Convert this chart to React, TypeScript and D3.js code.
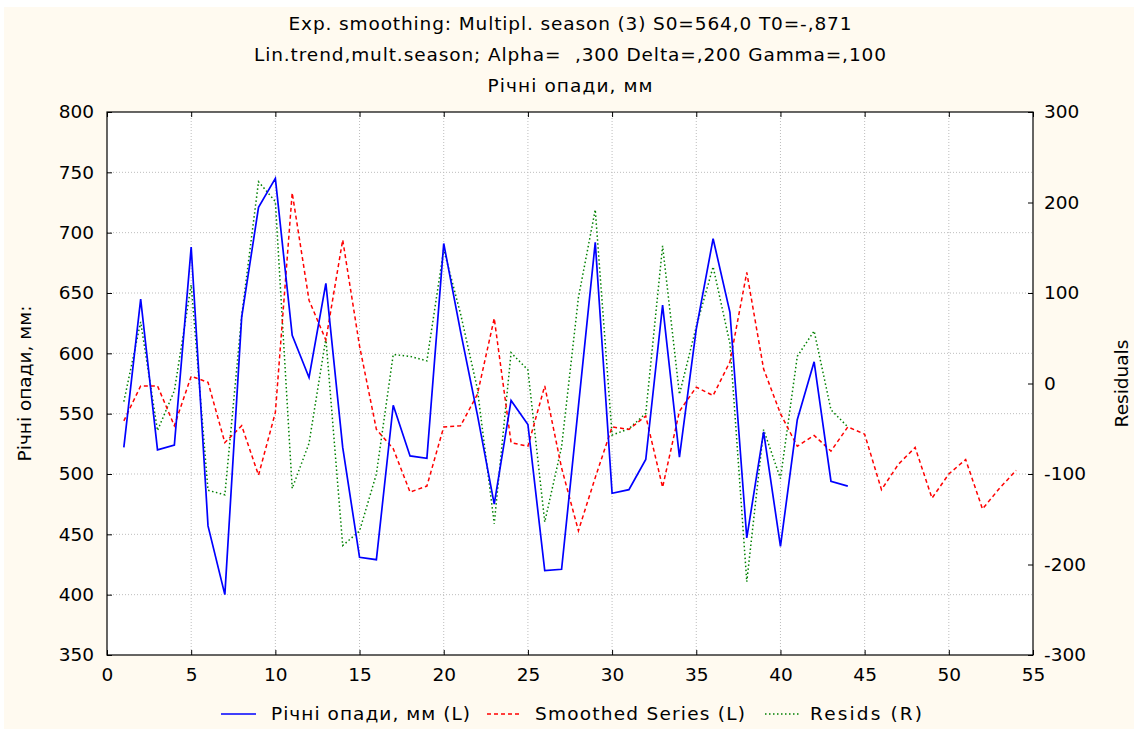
import * as d3 from 'd3';
import React, { useEffect, useRef } from 'react';

// x ticks, left (mm) ticks, right (residual) ticks
const xTicks = [0, 5, 10, 15, 20, 25, 30, 35, 40, 45, 50, 55];
const leftTicks = [350, 400, 450, 500, 550, 600, 650, 700, 750, 800];
const rightTicks = [-300, -200, -100, 0, 100, 200, 300];

// Річні опади, мм (L), periods 1..44
const rainfall = [
   522, 645, 520, 524, 688, 457, 400, 630, 721, 745, 615, 580, 658, 522, 431, 429, 557, 515, 513, 691, 618, 549,
   475, 561, 541, 420, 421, 556, 692, 484, 487, 512, 640, 514, 620, 695, 634, 447, 535, 440, 545, 593, 494, 490,
];

// Smoothed Series (L), periods 1..54 (incl. forecast)
const smoothed = [
   544, 573, 573, 540, 581, 576, 526, 540, 499, 551, 733, 644, 611, 694, 606, 537, 521, 485, 490, 539, 540, 566,
   629, 526, 523, 573, 505, 453, 497, 539, 537, 548, 489, 552, 572, 565, 593, 667, 587, 550, 523, 532, 519, 539,
   533, 487, 508, 522, 480, 500, 512, 471, 488, 503,
];

// Resids (R), periods 1..44
const resids = [
   -20, 68, -52, -8, 109, -118, -123, 75, 223, 201, -116, -66, 50, -179, -163, -100, 32, 30, 25, 148, 77, -6,
   -155, 34, 15, -153, -70, 95, 192, -57, -50, -33, 152, -12, 63, 129, 44, -219, -51, -105, 30, 58, -29, -48,
];

const titleLines = [
   'Exp. smoothing: Multipl. season (3) S0=564,0 T0=-,871',
   'Lin.trend,mult.season; Alpha=  ,300 Delta=,200 Gamma=,100',
   'Річні опади, мм',
];
// widths the title lines take in the original
const titleWidths = [563, 632, 165];

const legendLabels = ['Річні опади, мм (L)', 'Smoothed Series (L)', 'Resids (R)'];

const FONT = '"DejaVu Sans", Verdana, sans-serif';
const FS = 18.5;
const W = 1134;
const H = 729;

const App = () => {
   const svgRef = useRef<SVGSVGElement | null>(null);

   useEffect(() => {
      const el = svgRef.current;
      if (!el) {
         return;
      }
      const svg = d3.select(el);
      svg.selectAll('*').remove();

      const margin = { top: 112, right: 101, bottom: 74, left: 107 };
      const innerWidth = W - margin.left - margin.right;
      const innerHeight = H - margin.top - margin.bottom;

      // backgrounds
      svg.append('rect').attr('width', W).attr('height', H).attr('fill', '#ffffff');
      svg.append('rect')
         .attr('x', 4)
         .attr('y', 7)
         .attr('width', W - 4)
         .attr('height', H - 7)
         .attr('fill', '#fffaf0');

      const g = svg.append('g').attr('transform', `translate(${margin.left},${margin.top})`);
      g.append('rect').attr('width', innerWidth).attr('height', innerHeight).attr('fill', '#ffffff');

      const x = d3.scaleLinear().domain([0, 55]).range([0, innerWidth]);
      const yL = d3.scaleLinear().domain([350, 800]).range([innerHeight, 0]);
      const yR = d3.scaleLinear().domain([-300, 300]).range([innerHeight, 0]);

      // dotted grid
      const grid = g.append('g').attr('stroke', '#bdbdbd').attr('stroke-width', 1).attr('stroke-dasharray', '1,2');
      xTicks.slice(1, -1).forEach((t) => {
         grid.append('line').attr('x1', x(t)).attr('x2', x(t)).attr('y1', 0).attr('y2', innerHeight);
      });
      leftTicks.slice(1, -1).forEach((t) => {
         grid.append('line').attr('x1', 0).attr('x2', innerWidth).attr('y1', yL(t)).attr('y2', yL(t));
      });

      // series
      const plot = g.append('g');
      const lineL = d3
         .line<number>()
         .x((_, i) => x(i + 1))
         .y((v) => yL(v));
      const lineR = d3
         .line<number>()
         .x((_, i) => x(i + 1))
         .y((v) => yR(v));

      plot.append('path')
         .datum(resids)
         .attr('fill', 'none')
         .attr('stroke', '#008000')
         .attr('stroke-width', 1.5)
         .attr('stroke-dasharray', '1.5,2.5')
         .attr('d', lineR);
      plot.append('path')
         .datum(smoothed)
         .attr('fill', 'none')
         .attr('stroke', '#ff0000')
         .attr('stroke-width', 1.5)
         .attr('stroke-dasharray', '4,3')
         .attr('d', lineL);
      plot.append('path')
         .datum(rainfall)
         .attr('fill', 'none')
         .attr('stroke', '#0000ff')
         .attr('stroke-width', 1.7)
         .attr('d', lineL);

      // axes with inward ticks
      const styleAxis = (sel: d3.Selection<SVGGElement, unknown, null, undefined>) => {
         sel.select('.domain').remove();
         sel.selectAll('text').attr('font-family', FONT).attr('font-size', FS).attr('fill', '#000');
         sel.selectAll('line').attr('stroke', '#000');
      };
      const fmt = (d: d3.NumberValue) => String(d);

      g.append('g')
         .call(d3.axisLeft(yL).tickValues(leftTicks).tickSize(-5).tickPadding(13).tickFormat(fmt))
         .call(styleAxis);
      g.append('g')
         .attr('transform', `translate(${innerWidth},0)`)
         .call(d3.axisRight(yR).tickValues(rightTicks).tickSize(-5).tickPadding(11).tickFormat(fmt))
         .call(styleAxis);
      g.append('g')
         .attr('transform', `translate(0,${innerHeight})`)
         .call(d3.axisBottom(x).tickValues(xTicks).tickSize(-5).tickPadding(13).tickFormat(fmt))
         .call(styleAxis);
      g.append('g')
         .call(d3.axisTop(x).tickValues(xTicks).tickSize(-5).tickFormat(() => ''))
         .call(styleAxis);

      // frame
      g.append('rect')
         .attr('width', innerWidth)
         .attr('height', innerHeight)
         .attr('fill', 'none')
         .attr('stroke', '#000')
         .attr('stroke-width', 1.2);

      // titles
      const cx = margin.left + innerWidth / 2;
      [24, 55, 86].forEach((cy, i) => {
         svg.append('text')
            .attr('x', cx)
            .attr('y', cy)
            .attr('dy', '0.35em')
            .attr('text-anchor', 'middle')
            .attr('font-family', FONT)
            .attr('font-size', FS)
            .attr('textLength', titleWidths[i])
            .attr('lengthAdjust', 'spacing')
            .style('white-space', 'pre')
            .text(titleLines[i]);
      });

      // axis titles
      const cy = margin.top + innerHeight / 2;
      svg.append('text')
         .attr('transform', `translate(25,${cy}) rotate(-90)`)
         .attr('dy', '0.35em')
         .attr('text-anchor', 'middle')
         .attr('font-family', FONT)
         .attr('font-size', FS)
         .text('Річні опади, мм:');
      svg.append('text')
         .attr('transform', `translate(1122,${cy}) rotate(-90)`)
         .attr('dy', '0.35em')
         .attr('text-anchor', 'middle')
         .attr('font-family', FONT)
         .attr('font-size', FS)
         .text('Residuals');

      // legend: symbol start, text start, text width as in the original
      const legendStyle = [
         { color: '#0000ff', dash: null as string | null, x0: 221, tx: 271, tw: 199 },
         { color: '#ff0000', dash: '4,3', x0: 487, tx: 535, tw: 210 },
         { color: '#008000', dash: '1.5,2.5', x0: 765, tx: 810, tw: 112 },
      ];
      const legend = svg.append('g').attr('transform', 'translate(0,714)');
      legendLabels.forEach((label, i) => {
         const s = legendStyle[i];
         legend.append('line')
            .attr('x1', s.x0)
            .attr('x2', s.x0 + 35)
            .attr('y1', 0)
            .attr('y2', 0)
            .attr('stroke', s.color)
            .attr('stroke-width', 1.5)
            .attr('stroke-dasharray', s.dash);
         legend.append('text')
            .attr('x', s.tx)
            .attr('dy', '0.35em')
            .attr('font-family', FONT)
            .attr('font-size', FS)
            .attr('textLength', s.tw)
            .attr('lengthAdjust', 'spacing')
            .text(label);
      });
   }, []);

   return <svg ref={svgRef} width={W} height={H} style={{ position: 'absolute', left: 0, top: 0 }} />;
};

export default App;
